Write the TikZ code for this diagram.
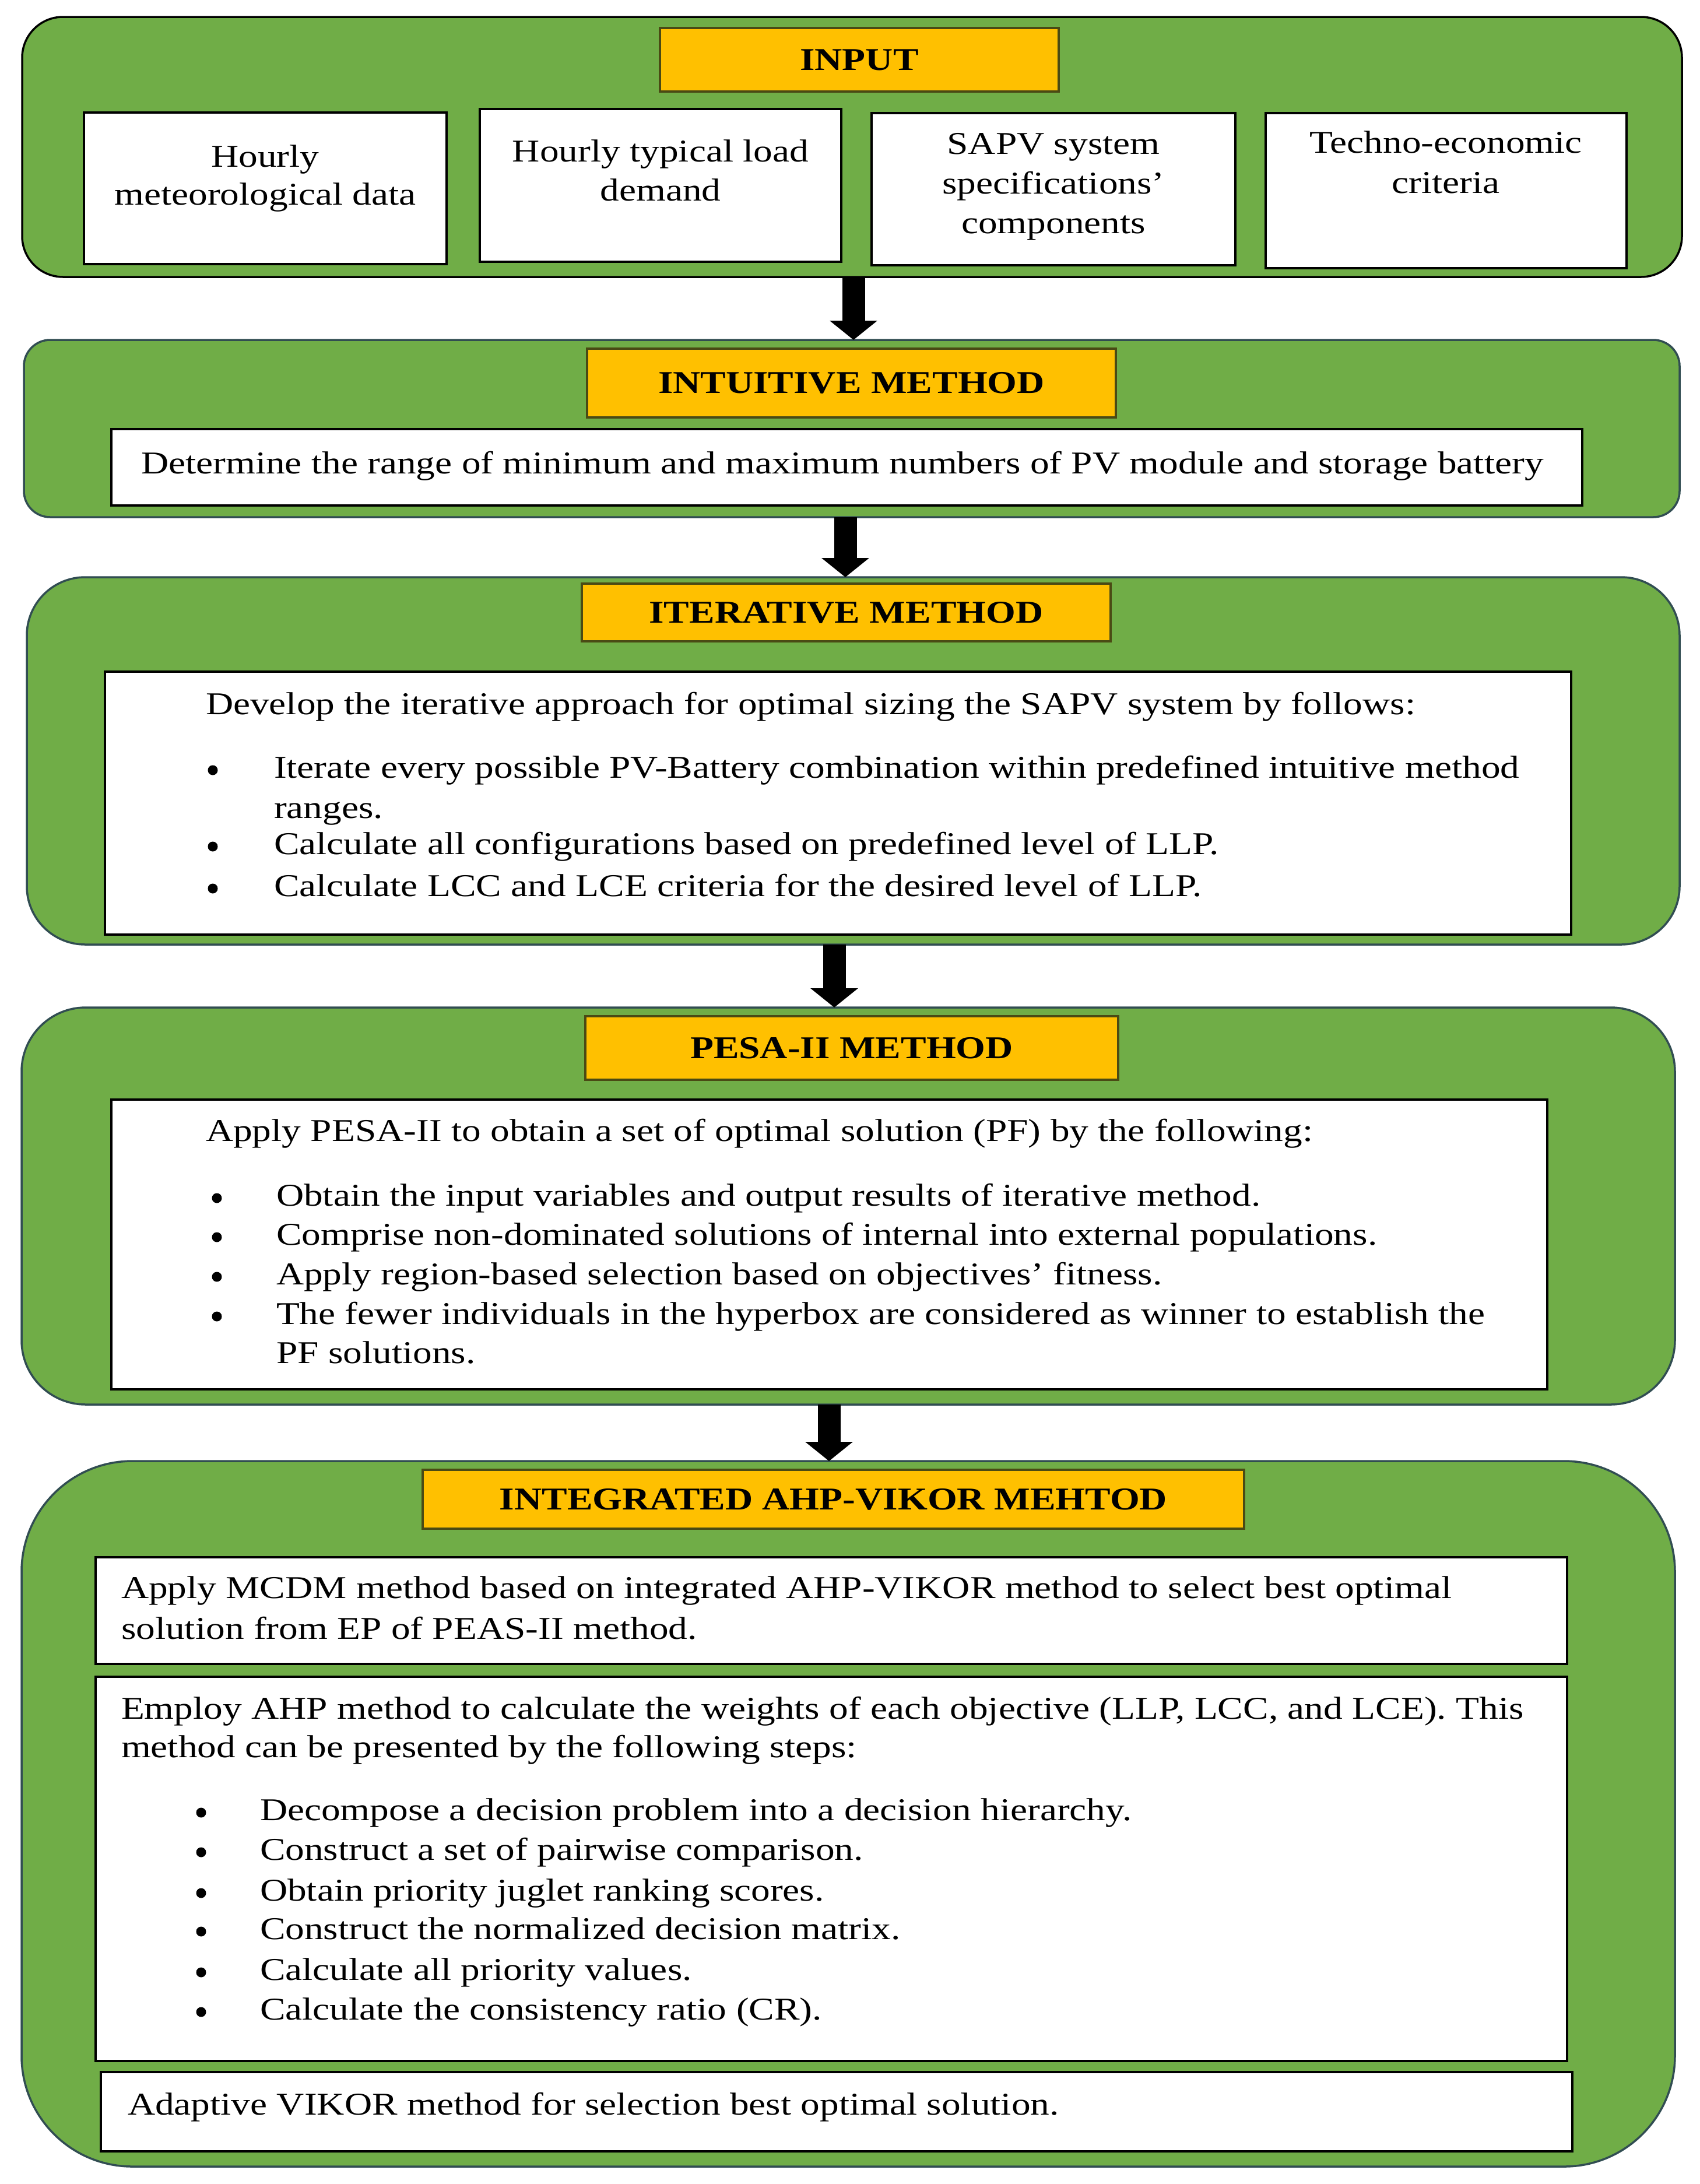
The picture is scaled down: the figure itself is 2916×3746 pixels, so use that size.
\documentclass[tikz,border=0pt]{standalone}
\usepackage{fontspec}
\setmainfont{Liberation Serif}[FakeStretch=1.2]
\usetikzlibrary{arrows.meta,fit}
\definecolor{gfill}{HTML}{70AD47}
\definecolor{gedge}{HTML}{314D52}
\definecolor{yfill}{HTML}{FFC000}
\definecolor{yedge}{HTML}{4A4A14}
\begin{document}
\begin{tikzpicture}[x=0.1mm,y=-0.1mm,
 gbox/.style={fill=gfill,draw=gedge,line width=0.35mm,inner sep=0pt,outer sep=0pt},
 ybox/.style={fill=yfill,draw=yedge,line width=0.4mm,inner sep=0pt,outer sep=0pt},
 wbox/.style={fill=white,draw=black,line width=0.4mm,inner sep=0pt,outer sep=0pt},
 txt/.style={inner sep=0pt,outer sep=0pt,anchor=base west,font=\fontsize{15.5}{19}\selectfont},
 ctxt/.style={txt,anchor=base},
 bul/.style={circle,fill=black,inner sep=0pt,outer sep=0pt,minimum size=1.7mm},
 ttl/.style={inner sep=0pt,font=\fontsize{15.5}{19}\selectfont\bfseries},
 flow/.style={line width=3.9mm,-{Triangle[width=8mm,length=3.3mm]}}
]
\useasboundingbox (0,0) rectangle (2916,3746);

% ---------- INPUT ----------
\node[gbox,draw=black,rounded corners=7mm,fit={(38,29)(2885,475)}] (g1) {};
\node[ybox,fit={(1132,48)(1816,157)}] (y1) {};
\node[ttl] (y1t) at (y1.center) {INPUT};
\node[wbox,fit={(144,193)(766,453)}] (i1) {};
\node[ctxt] (i1a) at (455,286) {Hourly};
\node[ctxt] (i1b) at (455,351) {meteorological data};
\node[wbox,fit={(823,187)(1443,449)}] (i2) {};
\node[ctxt] (i2a) at (1133,277) {Hourly typical load};
\node[ctxt] (i2b) at (1133,344) {demand};
\node[wbox,fit={(1495,194)(2119,455)}] (i3) {};
\node[ctxt] (i3a) at (1807,264) {SAPV system};
\node[ctxt] (i3b) at (1807,332) {specifications’};
\node[ctxt] (i3c) at (1807,400) {components};
\node[wbox,fit={(2171,194)(2790,460)}] (i4) {};
\node[ctxt] (i4a) at (2480,262) {Techno-economic};
\node[ctxt] (i4b) at (2480,331) {criteria};

% ---------- INTUITIVE ----------
\node[gbox,rounded corners=4.5mm,fit={(41,583)(2881,887)}] (g2) {};
\node[ybox,fit={(1007,598)(1914,716)}] (y2) {};
\node[ttl] (y2t) at (y2.center) {INTUITIVE METHOD};
\node[wbox,fit={(191,736)(2714,867)}] (w2) {};
\node[txt] (w2a) at (242,812) {Determine the range of minimum and maximum numbers of PV module and storage battery};

% ---------- ITERATIVE ----------
\node[gbox,rounded corners=10mm,fit={(46,990)(2881,1620)}] (g3) {};
\node[ybox,fit={(998,1001)(1905,1100)}] (y3) {};
\node[ttl] (y3t) at (y3.center) {ITERATIVE METHOD};
\node[wbox,fit={(180,1152)(2695,1603)}] (w3) {};
\node[txt] (w3a) at (353,1225) {Develop the iterative approach for optimal sizing the SAPV system by follows:};
\node[bul] (w3b1) at (365,1321) {};
\node[txt] (w3t1) at (470,1334) {Iterate every possible PV-Battery combination within predefined intuitive method};
\node[txt] (w3t1b) at (470,1403) {ranges.};
\node[bul] (w3b2) at (365,1452) {};
\node[txt] (w3t2) at (470,1465) {Calculate all configurations based on predefined level of LLP.};
\node[bul] (w3b3) at (365,1524) {};
\node[txt] (w3t3) at (470,1537) {Calculate LCC and LCE criteria for the desired level of LLP.};

% ---------- PESA-II ----------
\node[gbox,rounded corners=11mm,fit={(37,1728)(2873,2409)}] (g4) {};
\node[ybox,fit={(1004,1743)(1918,1852)}] (y4) {};
\node[ttl] (y4t) at (y4.center) {PESA-II METHOD};
\node[wbox,fit={(191,1886)(2654,2383)}] (w4) {};
\node[txt] (w4a) at (353,1957) {Apply PESA-II to obtain a set of optimal solution (PF) by the following:};
\node[bul] (w4b1) at (372,2055) {};
\node[txt] (w4t1) at (474,2068) {Obtain the input variables and output results of iterative method.};
\node[bul] (w4b2) at (372,2122) {};
\node[txt] (w4t2) at (474,2135) {Comprise non-dominated solutions of internal into external populations.};
\node[bul] (w4b3) at (372,2190) {};
\node[txt] (w4t3) at (474,2203) {Apply region-based selection based on objectives’ fitness.};
\node[bul] (w4b4) at (372,2258) {};
\node[txt] (w4t4) at (474,2271) {The fewer individuals in the hyperbox are considered as winner to establish the};
\node[txt] (w4t4b) at (474,2338) {PF solutions.};

% ---------- AHP-VIKOR ----------
\node[gbox,rounded corners=19mm,fit={(37,2506)(2873,3716)}] (g5) {};
\node[ybox,fit={(725,2521)(2134,2622)}] (y5) {};
\node[ttl] (y5t) at (y5.center) {INTEGRATED AHP-VIKOR MEHTOD};
\node[wbox,fit={(164,2671)(2688,2854)}] (w5a) {};
\node[txt] (w5a1) at (208,2741) {Apply MCDM method based on integrated AHP-VIKOR method to select best optimal};
\node[txt] (w5a2) at (208,2811) {solution from EP of PEAS-II method.};
\node[wbox,fit={(164,2876)(2688,3535)}] (w5b) {};
\node[txt] (w5b1) at (208,2948) {Employ AHP method to calculate the weights of each objective (LLP, LCC, and LCE). This};
\node[txt] (w5b2) at (208,3014) {method can be presented by the following steps:};
\node[bul] (w5c1) at (345,3109) {};
\node[txt] (w5d1) at (446,3122) {Decompose a decision problem into a decision hierarchy.};
\node[bul] (w5c2) at (345,3177) {};
\node[txt] (w5d2) at (446,3190) {Construct a set of pairwise comparison.};
\node[bul] (w5c3) at (345,3247) {};
\node[txt] (w5d3) at (446,3260) {Obtain priority juglet ranking scores.};
\node[bul] (w5c4) at (345,3313) {};
\node[txt] (w5d4) at (446,3326) {Construct the normalized decision matrix.};
\node[bul] (w5c5) at (345,3383) {};
\node[txt] (w5d5) at (446,3396) {Calculate all priority values.};
\node[bul] (w5c6) at (345,3451) {};
\node[txt] (w5d6) at (446,3464) {Calculate the consistency ratio (CR).};
\node[wbox,fit={(173,3554)(2697,3690)}] (w5c) {};
\node[txt] (w5e) at (219,3627) {Adaptive VIKOR method for selection best optimal solution.};

% ---------- arrows ----------
\coordinate (c1) at (1464,0);
\coordinate (c2) at (1450,0);
\coordinate (c3) at (1431,0);
\coordinate (c4) at (1422,0);
\draw[flow] (g1.south -| c1) -- (g2.north -| c1);
\draw[flow] (g2.south -| c2) -- (g3.north -| c2);
\draw[flow] (g3.south -| c3) -- (g4.north -| c3);
\draw[flow] (g4.south -| c4) -- (g5.north -| c4);
\end{tikzpicture}
\end{document}
